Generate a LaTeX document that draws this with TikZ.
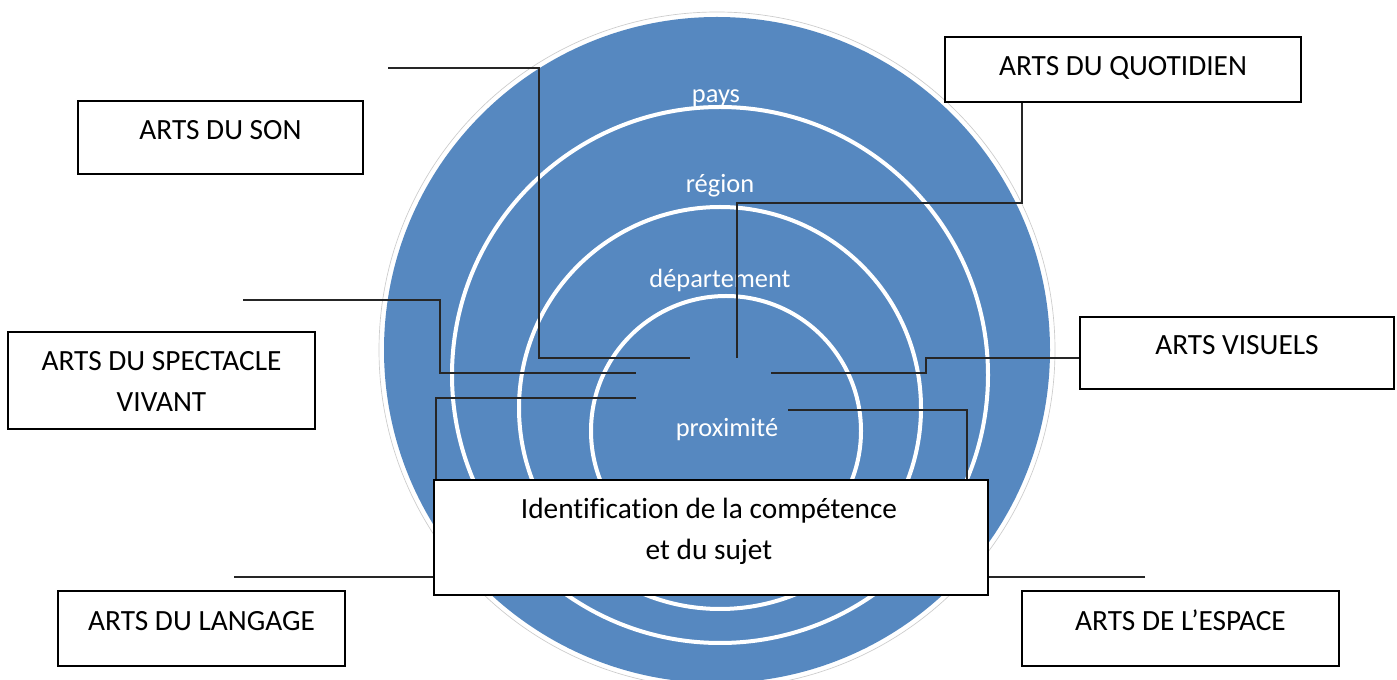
\documentclass[tikz,border=0pt]{standalone}
\usepackage{fontspec}
\setmainfont[Ligatures=NoCommon]{Carlito}
\usetikzlibrary{fit}
\definecolor{ringblue}{RGB}{86,136,192}
\begin{document}
\begin{tikzpicture}[x=0.75pt,y=-0.75pt,
  boxstyle/.style={draw=black, line width=2pt, fill=white, inner sep=0pt},
  boxtext/.style={anchor=base, align=center, font=\fontsize{22}{30.75}\selectfont, text=black, inner sep=0pt},
  ringlbl/.style={anchor=base, font=\fontsize{19.8}{23}\selectfont, text=white, inner sep=0pt},
  ring/.style={fill=ringblue, draw=white, line width=3pt},
  conn/.style={draw=black!85, line width=0.8pt}]
\clip (0,0) rectangle (1397,680);
\fill[white] (0,0) rectangle (1397,680);
% concentric circles
\draw[gray!40, line width=0.5pt] (717,350) circle[radius=338];
\fill[ringblue] (717,350) circle[radius=333];
\node[ringlbl] (pays) at (716,103) {pays};
\draw[ring] (720,375) circle[radius=268];
\node[ringlbl] (region) at (720,193) {région};
\draw[ring] (720,408) circle[radius=201];
\node[ringlbl] (dept) at (720,288) {département};
\draw[ring] (726,431) circle[radius=135];
\node[ringlbl] (prox) at (727,437) {proximité};
% connector ends
\coordinate (c1a) at (388,68);  \coordinate (c1b) at (690,358);
\coordinate (c2a) at (243,300); \coordinate (c2b) at (636,373);
\coordinate (c3a) at (234,577); \coordinate (c3b) at (636,398);
\coordinate (c4a) at (1145,577);\coordinate (c4b) at (788,410);
\coordinate (c5a) at (1080,358);\coordinate (c5b) at (771,373);
\coordinate (c6a) at (1022,102);\coordinate (c6b) at (737,358);
\draw[conn] (c1a) -- ++(151,0) |- (c1b);
\draw[conn] (c2a) -- ++(197,0) |- (c2b);
\draw[conn] (c3a) -- ++(202,0) |- (c3b);
\draw[conn] (c4a) -- ++(-178,0) |- (c4b);
\draw[conn] (c5a) -- ++(-154,0) |- (c5b);
\draw[conn] (c6a) -- ++(0,101) -| (c6b);
% boxes
\node[boxstyle, fit={(78,101) (363,174)}] (son) {};
\node[boxstyle, fit={(8,332) (315,429)}] (spect) {};
\node[boxstyle, fit={(945,37) (1301,102)}] (quot) {};
\node[boxstyle, fit={(1080,317) (1394,389)}] (vis) {};
\node[boxstyle, fit={(58,591) (345,666)}] (lang) {};
\node[boxstyle, fit={(1022,591) (1339,666)}] (esp) {};
\node[boxstyle, fit={(434,480) (988,595)}] (ident) {};
\node[boxtext] (sonT) at (220.5,140) {ARTS DU SON};
\node[boxtext] (spectT) at (161.5,412) {ARTS DU SPECTACLE\\VIVANT};
\node[boxtext] (quotT) at (1123,76) {ARTS DU QUOTIDIEN};
\node[boxtext] (visT) at (1237,355) {ARTS VISUELS};
\node[boxtext] (langT) at (201.5,631) {ARTS DU LANGAGE};
\node[boxtext] (espT) at (1180.5,631) {ARTS DE L’ESPACE};
\node[boxtext] (identT) at (709,560) {Identification de la compétence\\et du sujet};
\end{tikzpicture}
\end{document}
